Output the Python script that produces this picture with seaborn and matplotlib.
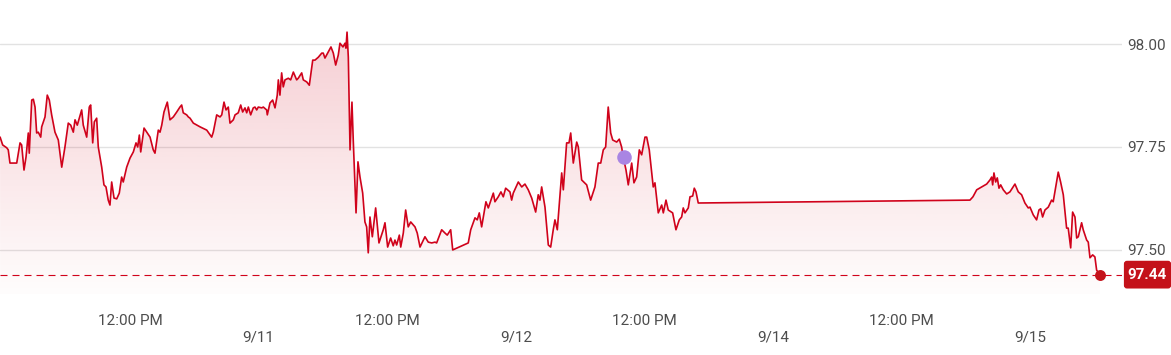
import numpy as np
import pandas as pd
import matplotlib
matplotlib.use("Agg")
import matplotlib.pyplot as plt
from matplotlib.patches import BoxStyle
import seaborn as sns

# ---- data: hours since 9/10 00:00 (trading-time axis) and price ----
hours = [
    -0.12, 0.12, 0.50, 0.64, 0.80, 1.11, 1.43, 1.58, 1.74, 1.89, 2.11, 2.30, 2.51, 2.60, 2.83, 2.98,
    3.14, 3.29, 3.44, 3.67, 3.76, 4.07, 4.28, 4.47, 4.69, 5.00, 5.31, 5.63, 5.93, 6.24, 6.47, 6.71,
    6.87, 7.08, 7.27, 7.49, 7.64, 7.96, 8.20, 8.33, 8.52, 8.67, 8.89, 9.04, 9.36, 9.57, 9.76, 9.97,
    10.13, 10.29, 10.51, 10.76, 11.00, 11.22, 11.37, 11.69, 12.00, 12.31, 12.56, 12.72, 12.87, 13.00,
    13.31, 13.56, 13.87, 14.17, 14.33, 14.64, 14.80, 14.96, 15.17, 15.48, 15.73, 16.04, 16.36, 16.66,
    16.82, 16.97, 17.29, 17.44, 17.60, 17.91, 18.53, 19.16, 19.62, 19.77, 20.09, 20.40, 20.56, 20.77,
    20.96, 21.17, 21.33, 21.64, 21.80, 22.10, 22.33, 22.51, 22.73, 22.89, 23.04, 23.26, 23.50, 23.66,
    23.82, 23.97, 24.29, 24.44, 24.75, 24.81, 25.06, 25.31, 25.53, 25.74, 25.84, 25.99, 26.15, 26.30,
    26.46, 26.77, 26.99, 27.24, 27.55, 27.70, 28.02, 28.17, 28.49, 28.73, 29.05, 29.26, 29.57, 29.89,
    30.03, 30.19, 30.50, 30.75, 30.97, 31.19, 31.43, 31.59, 31.87, 32.06, 32.15, 32.25, 32.37, 32.53,
    32.71, 32.83, 33.09, 33.27, 33.46, 33.71, 33.92, 34.08, 34.23, 34.39, 34.61, 34.92, 35.23, 35.63,
    35.79, 36.04, 36.32, 36.56, 36.72, 36.88, 37.13, 37.26, 37.50, 37.72, 37.96, 38.19, 38.59, 38.80,
    39.06, 39.52, 39.83, 40.15, 40.46, 40.61, 40.83, 41.08, 41.39, 41.60, 41.92, 42.11, 43.56, 43.79,
    44.19, 44.40, 44.59, 44.81, 45.21, 45.43, 45.90, 46.05, 46.36, 46.61, 46.83, 47.05, 47.45, 47.61,
    47.76, 48.23, 48.55, 48.85, 49.16, 49.48, 49.85, 50.09, 50.25, 50.41, 50.72, 51.03, 51.25, 51.49,
    51.65, 51.87, 52.28, 52.43, 52.74, 52.96, 53.12, 53.36, 53.68, 53.83, 54.14, 54.61, 54.98, 55.38,
    55.69, 55.92, 56.16, 56.38, 56.62, 56.85, 57.04, 57.41, 57.65, 57.87, 58.02, 58.28, 58.49, 58.81,
    59.02, 59.27, 59.52, 59.74, 60.05, 60.21, 60.45, 60.82, 60.98, 61.29, 61.61, 61.76, 62.01, 62.22,
    62.63, 62.94, 63.25, 63.47, 63.62, 63.78, 64.09, 64.25, 64.50, 64.65, 64.81, 65.02, 90.37, 90.65,
    91.00, 91.46, 91.93, 92.24, 92.40, 92.49, 92.61, 92.77, 92.92, 93.08, 93.24, 93.48, 93.80, 94.10,
    94.57, 94.88, 95.19, 95.50, 95.81, 95.97, 96.28, 96.59, 96.81, 96.97, 97.15, 97.37, 97.68, 97.99,
    98.14, 98.30, 98.61, 98.83, 99.08, 99.39, 99.54, 99.77, 99.95, 100.17, 100.33, 100.48, 100.79,
    100.94, 101.26, 101.41, 101.57, 101.82, 102.03, 102.19, 102.50,
]
prices = [
    97.774, 97.755, 97.748, 97.743, 97.711, 97.711, 97.711, 97.735, 97.760, 97.755, 97.694, 97.726,
    97.784, 97.735, 97.864, 97.866, 97.847, 97.784, 97.786, 97.774, 97.799, 97.823, 97.876, 97.864,
    97.828, 97.786, 97.767, 97.701, 97.750, 97.808, 97.803, 97.786, 97.816, 97.803, 97.820, 97.840,
    97.803, 97.774, 97.847, 97.852, 97.760, 97.811, 97.820, 97.750, 97.701, 97.658, 97.653, 97.621,
    97.609, 97.665, 97.626, 97.624, 97.638, 97.677, 97.665, 97.701, 97.723, 97.738, 97.760, 97.750,
    97.779, 97.738, 97.796, 97.786, 97.774, 97.743, 97.735, 97.791, 97.786, 97.803, 97.835, 97.859,
    97.816, 97.823, 97.835, 97.847, 97.852, 97.833, 97.828, 97.823, 97.820, 97.808, 97.799, 97.791,
    97.774, 97.786, 97.828, 97.823, 97.828, 97.859, 97.840, 97.847, 97.808, 97.816, 97.828, 97.833,
    97.852, 97.835, 97.845, 97.833, 97.847, 97.828, 97.845, 97.847, 97.840, 97.847, 97.845, 97.847,
    97.840, 97.828, 97.857, 97.864, 97.845, 97.876, 97.913, 97.876, 97.930, 97.896, 97.913, 97.917,
    97.913, 97.932, 97.913, 97.917, 97.930, 97.913, 97.908, 97.900, 97.961, 97.961, 97.968, 97.978,
    97.978, 97.966, 97.981, 97.993, 97.978, 97.949, 97.973, 98.002, 97.993, 98.002, 97.990, 98.029,
    97.968, 97.743, 97.859, 97.767, 97.590, 97.714, 97.677, 97.638, 97.568, 97.556, 97.493, 97.580,
    97.532, 97.602, 97.517, 97.549, 97.566, 97.507, 97.529, 97.510, 97.524, 97.512, 97.536, 97.507,
    97.541, 97.597, 97.556, 97.568, 97.556, 97.541, 97.507, 97.532, 97.519, 97.517, 97.519, 97.517,
    97.532, 97.549, 97.541, 97.536, 97.549, 97.500, 97.517, 97.549, 97.578, 97.573, 97.590, 97.556,
    97.617, 97.602, 97.638, 97.617, 97.629, 97.641, 97.629, 97.650, 97.641, 97.621, 97.638, 97.665,
    97.653, 97.660, 97.646, 97.626, 97.592, 97.634, 97.621, 97.653, 97.604, 97.512, 97.507, 97.549,
    97.573, 97.549, 97.687, 97.646, 97.760, 97.760, 97.784, 97.711, 97.762, 97.750, 97.670, 97.658,
    97.621, 97.653, 97.711, 97.711, 97.743, 97.750, 97.847, 97.784, 97.767, 97.762, 97.769, 97.750,
    97.726, 97.694, 97.658, 97.711, 97.663, 97.677, 97.743, 97.731, 97.774, 97.774, 97.743, 97.653,
    97.663, 97.590, 97.609, 97.590, 97.621, 97.597, 97.590, 97.549, 97.573, 97.580, 97.602, 97.590,
    97.602, 97.629, 97.631, 97.650, 97.641, 97.614, 97.621, 97.629, 97.646, 97.653, 97.660, 97.670,
    97.677, 97.658, 97.687, 97.665, 97.675, 97.650, 97.658, 97.646, 97.636, 97.641, 97.660, 97.641,
    97.634, 97.614, 97.602, 97.604, 97.585, 97.573, 97.597, 97.600, 97.580, 97.597, 97.604, 97.621,
    97.617, 97.641, 97.689, 97.665, 97.634, 97.553, 97.553, 97.505, 97.592, 97.580, 97.529, 97.532,
    97.566, 97.549, 97.524, 97.519, 97.481, 97.488, 97.483, 97.451, 97.440,
]
last_price = 97.44
highlight_hour = 58.10
highlight_price = 97.726

ytick_values = [97.50, 97.75, 98.00]
ytick_labels = ["97.50", "97.75", "98.00"]
time_tick_hours = [12, 36, 60, 84]
time_tick_labels = ["12:00 PM", "12:00 PM", "12:00 PM", "12:00 PM"]
date_tick_hours = [24, 48, 72, 96]
date_tick_labels = ["9/11", "9/12", "9/14", "9/15"]

# ---- style ----
RED = "#d0021b"
LABEL_RED = "#c4121a"
PURPLE = "#a985e3"
GRID = "#e2e2e2"
TEXT = "#4d4d4d"

sns.set_theme(style="white")
plt.rcParams["font.family"] = ["Roboto", "DejaVu Sans"]

W, H = 1171, 355
fig = plt.figure(figsize=(W / 100, H / 100), dpi=100)
ax_right_px = 1121.7
ax_bottom_px = 294
ax = fig.add_axes([0, 1 - ax_bottom_px / H, ax_right_px / W, ax_bottom_px / H])

xmin, xmax = -0.13, 104.53
ymin, ymax = 97.393, 98.107

df = pd.DataFrame({"hour": hours, "price": prices})

# gradient fill under the line
poly = ax.fill_between(df["hour"], df["price"], ymin, facecolor="none", edgecolor="none")
grad = np.linspace(0, 1, 256).reshape(-1, 1)
rgba = np.zeros((256, 1, 4))
base = matplotlib.colors.to_rgb(RED)
rgba[..., 0], rgba[..., 1], rgba[..., 2] = base
rgba[..., 3] = 0.012 + 0.18 * grad  # bottom -> top
top_fill = max(prices)
im = ax.imshow(rgba[::-1], extent=[xmin, xmax, ymin, top_fill], origin="upper",
               aspect="auto", zorder=1, interpolation="bilinear")
im.set_clip_path(poly.get_paths()[0], transform=ax.transData)

sns.lineplot(data=df, x="hour", y="price", ax=ax, color=RED, linewidth=1.2,
             estimator=None, sort=False, zorder=3)

# last price reference line, dot and label
ax.axhline(last_price, color=RED, linewidth=0.8, linestyle=(0, (6.3, 4.5)), zorder=2)
ax.scatter([hours[-1]], [last_price], s=62, color=LABEL_RED, zorder=5, linewidths=0)
ax.scatter([highlight_hour], [highlight_price], s=110, color=PURPLE, zorder=5, linewidths=0)

_round = BoxStyle.Round(pad=0, rounding_size=0.2)


def label_box(x0, y0, width, height, mutation_size):
    padx = 0.26 * mutation_size
    pady = 0.45 * mutation_size
    return _round(x0 - padx, y0 - pady, width + 2 * padx, height + 2 * pady, mutation_size)


ax.text(1.0055, last_price, f"{last_price:.2f}", transform=ax.get_yaxis_transform(),
        ha="left", va="center", color="white", fontsize=11, fontweight="bold",
        bbox=dict(boxstyle=label_box, fc=LABEL_RED, ec="none"),
        clip_on=False, zorder=6)

ax.set_xlim(xmin, xmax)
ax.set_ylim(ymin, ymax)

# y axis on the right
ax.yaxis.tick_right()
ax.set_yticks(ytick_values)
ax.set_yticklabels(ytick_labels)
ax.tick_params(axis="y", length=0, pad=3.8, labelsize=11, labelcolor=TEXT)
ax.yaxis.grid(True, color=GRID, linewidth=1)
ax.xaxis.grid(False)

# two-row x labels
ax.set_xticks(time_tick_hours)
ax.set_xticklabels(time_tick_labels)
ax.set_xticks(date_tick_hours, minor=True)
ax.set_xticklabels(date_tick_labels, minor=True)
ax.tick_params(axis="x", which="major", length=0, pad=14.5, labelsize=11, labelcolor=TEXT)
ax.tick_params(axis="x", which="minor", length=0, pad=26, labelsize=11, labelcolor=TEXT)

ax.set_xlabel("")
ax.set_ylabel("")
for s in ax.spines.values():
    s.set_visible(False)

fig.savefig("out.png", dpi=100)
